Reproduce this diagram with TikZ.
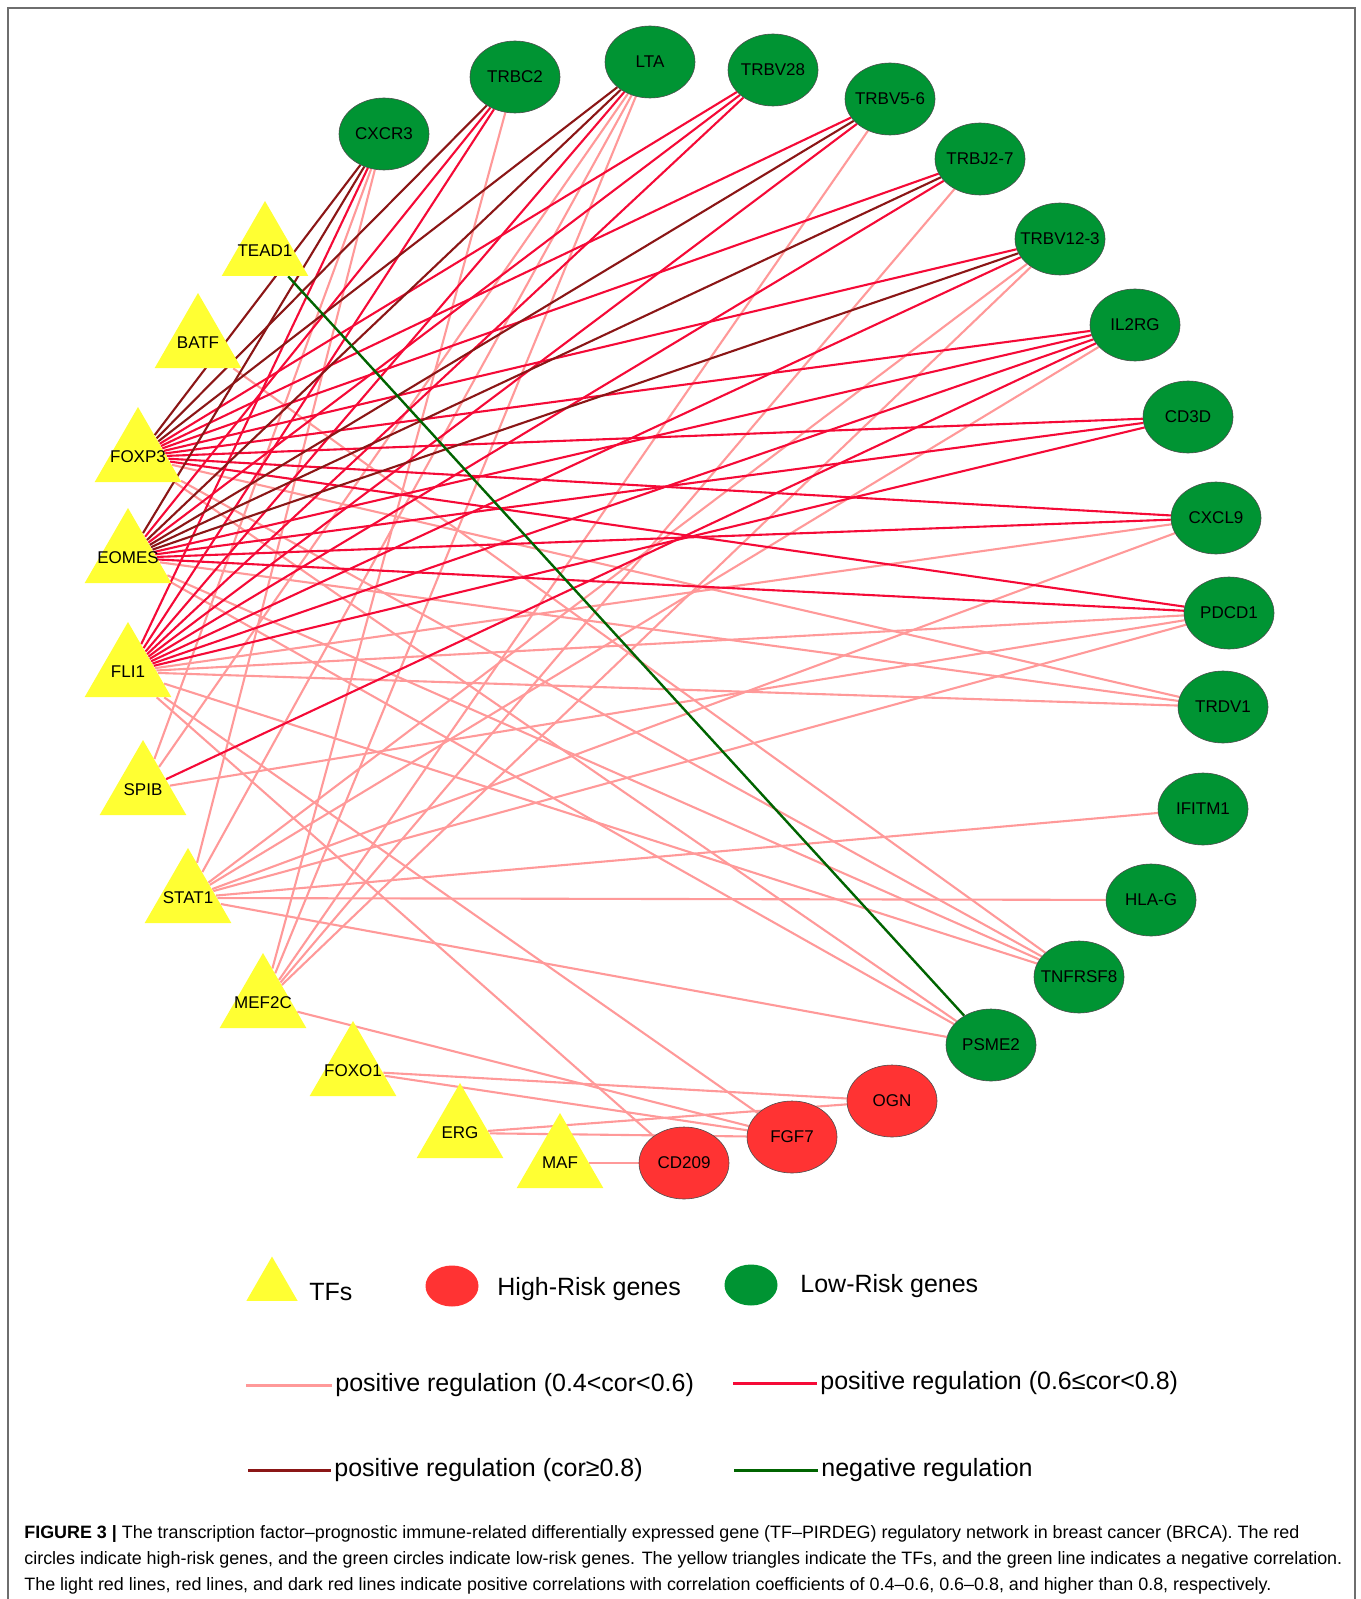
\documentclass[tikz,border=0pt]{standalone}
\usepackage{fontspec}
\setmainfont{Liberation Sans}
\usetikzlibrary{shapes.geometric,backgrounds}
\definecolor{TfYellow}{RGB}{255,255,51}
\definecolor{LowGreen}{RGB}{0,148,51}
\definecolor{HighRed}{RGB}{255,51,51}
\definecolor{EdgePink}{RGB}{255,153,153}
\definecolor{EdgeRed}{RGB}{245,10,55}
\definecolor{EdgeDark}{RGB}{139,22,22}
\definecolor{EdgeGreen}{RGB}{0,100,0}
\definecolor{FrameGray}{RGB}{110,110,110}
\newcommand{\genefont}{\fontsize{8.5}{10}\selectfont}
\newcommand{\legfont}{\fontsize{12.5}{15}\selectfont}
\newcommand{\capfont}{\fontsize{8.95}{13}\selectfont}
\tikzset{
  tfnode/.style={regular polygon, regular polygon sides=3, fill=TfYellow,
    minimum size=50pt, inner sep=0pt, label={[font=\genefont]center:#1}},
  lownode/.style={ellipse, draw=black!70, line width=0.3pt, fill=LowGreen,
    minimum width=45pt, minimum height=36pt, inner sep=0pt,
    label={[font=\genefont]center:#1}},
  highnode/.style={lownode=#1, fill=HighRed},
  weakedge/.style={EdgePink, line width=1.05pt},
  midedge/.style={EdgeRed, line width=1.05pt},
  strongedge/.style={EdgeDark, line width=1.05pt},
  negedge/.style={EdgeGreen, line width=1.2pt},
  legtext/.style={anchor=west, inner sep=1.5pt, font=\legfont},
  legline/.style={line width=1.5pt},
}

\begin{document}
\begin{tikzpicture}[x=0.5pt, y=-0.5pt]
  \useasboundingbox (0,0) rectangle (1360,1599);
  \draw[FrameGray, line width=0.8pt] (8,1599) -- (8,8) -- (1355,8) -- (1355,1599);

  % transcription factors
  \node[tfnode=TEAD1] (tead1) at (265,251) {};
  \node[tfnode=BATF] (batf) at (198,343) {};
  \node[tfnode=FOXP3] (foxp3) at (138,457) {};
  \node[tfnode=EOMES] (eomes) at (128,558) {};
  \node[tfnode=FLI1] (fli1) at (128,672) {};
  \node[tfnode=SPIB] (spib) at (143,790) {};
  \node[tfnode=STAT1] (stat1) at (188,898) {};
  \node[tfnode=MEF2C] (mef2c) at (263,1003) {};
  \node[tfnode=FOXO1] (foxo1) at (353,1071) {};
  \node[tfnode=ERG] (erg) at (460,1133) {};
  \node[tfnode=MAF] (maf) at (560,1163) {};

  % low-risk genes
  \node[lownode=CXCR3] (cxcr3) at (384,134) {};
  \node[lownode=TRBC2] (trbc2) at (515,77) {};
  \node[lownode=LTA] (lta) at (650,62) {};
  \node[lownode=TRBV28] (trbv28) at (773,70) {};
  \node[lownode=TRBV5-6] (trbv56) at (890,99) {};
  \node[lownode=TRBJ2-7] (trbj27) at (980,159) {};
  \node[lownode=TRBV12-3] (trbv123) at (1060,239) {};
  \node[lownode=IL2RG] (il2rg) at (1135,325) {};
  \node[lownode=CD3D] (cd3d) at (1188,417) {};
  \node[lownode=CXCL9] (cxcl9) at (1216,518) {};
  \node[lownode=PDCD1] (pdcd1) at (1229,613) {};
  \node[lownode=TRDV1] (trdv1) at (1223,707) {};
  \node[lownode=IFITM1] (ifitm1) at (1203,809) {};
  \node[lownode=HLA-G] (hlag) at (1151,900) {};
  \node[lownode=TNFRSF8] (tnfrsf8) at (1079,977) {};
  \node[lownode=PSME2] (psme2) at (991,1045) {};

  % high-risk genes
  \node[highnode=OGN] (ogn) at (892,1101) {};
  \node[highnode=FGF7] (fgf7) at (792,1137) {};
  \node[highnode=CD209] (cd209) at (684,1163) {};

  \begin{scope}[on background layer]
    \foreach \a/\b in {batf/tnfrsf8, foxp3/trdv1, foxp3/tnfrsf8, foxp3/psme2,
        eomes/trdv1, eomes/tnfrsf8, eomes/psme2,
        fli1/cxcl9, fli1/pdcd1, fli1/trdv1, fli1/tnfrsf8, fli1/fgf7, fli1/cd209,
        spib/cxcr3, spib/lta, spib/pdcd1,
        stat1/cxcr3, stat1/lta, stat1/trbv123, stat1/il2rg, stat1/cxcl9,
        stat1/pdcd1, stat1/ifitm1, stat1/hlag, stat1/psme2,
        mef2c/trbc2, mef2c/lta, mef2c/trbv56, mef2c/trbj27, mef2c/trbv123, mef2c/fgf7,
        foxo1/ogn, foxo1/fgf7, erg/ogn, erg/fgf7, maf/cd209}
      \draw[weakedge] (\a) -- (\b);
    \foreach \a/\b in {foxp3/trbv28, foxp3/trbv56, foxp3/trbj27, foxp3/trbv123,
        foxp3/il2rg, foxp3/cd3d, foxp3/cxcl9, foxp3/pdcd1,
        eomes/trbc2, eomes/trbv28, eomes/il2rg, eomes/cd3d, eomes/cxcl9, eomes/pdcd1,
        fli1/cxcr3, fli1/trbc2, fli1/lta, fli1/trbv28, fli1/trbv56, fli1/trbj27,
        fli1/trbv123, fli1/il2rg, fli1/cd3d, spib/il2rg}
      \draw[midedge] (\a) -- (\b);
    \foreach \a/\b in {foxp3/cxcr3, foxp3/trbc2, foxp3/lta, eomes/cxcr3, eomes/lta,
        eomes/trbv56, eomes/trbj27, eomes/trbv123}
      \draw[strongedge] (\a) -- (\b);
    \draw[negedge] (tead1) -- (psme2);
  \end{scope}

  % legend
  \node[regular polygon, regular polygon sides=3, fill=TfYellow, minimum size=29.5pt,
    inner sep=0pt] (lgtf) at (272,1286) {};
  \node[legtext] (lgtftxt) at (306,1292) {TFs};
  \node[ellipse, fill=HighRed, minimum width=26.5pt, minimum height=20.5pt] (lghigh) at (452,1286) {};
  \node[legtext] (lghightxt) at (494,1289) {High-Risk genes};
  \node[ellipse, fill=LowGreen, minimum width=26.5pt, minimum height=20.5pt] (lglow) at (751,1285) {};
  \node[legtext] (lglowtxt) at (797,1286) {Low-Risk genes};

  \coordinate (lgweak) at (246,1385);
  \node[legtext] (lgweaktxt) at (332,1385) {positive regulation (0.4<cor<0.6)};
  \draw[weakedge, legline] (lgweak) -- (lgweaktxt.west);
  \coordinate (lgmid) at (733,1383);
  \node[legtext] (lgmidtxt) at (817,1383) {positive regulation (0.6≤cor<0.8)};
  \draw[midedge, legline] (lgmid) -- (lgmidtxt.west);
  \coordinate (lgstrong) at (248,1470);
  \node[legtext] (lgstrongtxt) at (331,1470) {positive regulation (cor≥0.8)};
  \draw[strongedge, legline] (lgstrong) -- (lgstrongtxt.west);
  \coordinate (lgneg) at (734,1470);
  \node[legtext] (lgnegtxt) at (818,1470) {negative regulation};
  \draw[negedge, legline] (lgneg) -- (lgnegtxt.west);

  % caption
  \node[anchor=north west, align=left, inner sep=0pt, font=\capfont] (caption) at (24,1525)
    {\textbf{FIGURE 3 |} The transcription factor–prognostic immune-related differentially expressed gene (TF–PIRDEG) regulatory network in breast cancer (BRCA). The red\\
     circles indicate high-risk genes, and the green circles indicate low-risk genes. The yellow triangles indicate the TFs, and the green line indicates a negative correlation.\\
     The light red lines, red lines, and dark red lines indicate positive correlations with correlation coefficients of 0.4–0.6, 0.6–0.8, and higher than 0.8, respectively.};
\end{tikzpicture}
\end{document}
